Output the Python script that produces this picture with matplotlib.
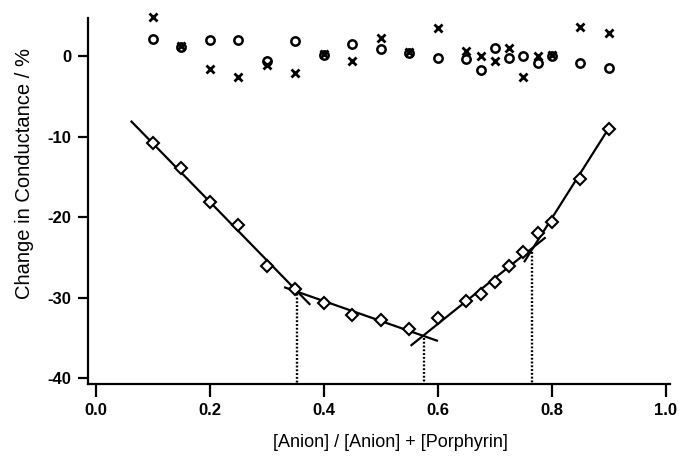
import matplotlib

matplotlib.use("Agg")
import matplotlib.pyplot as plt

# composition (mole fraction of anion)
x_main = [0.10, 0.15, 0.20, 0.25, 0.30, 0.35, 0.40, 0.45, 0.50, 0.55,
          0.60, 0.65, 0.675, 0.70, 0.725, 0.75, 0.775, 0.80, 0.85, 0.90]
y_main = [-10.8, -13.9, -18.1, -21.0, -26.1, -28.9, -30.7, -32.2, -32.8, -33.9,
          -32.5, -30.4, -29.5, -28.0, -26.1, -24.3, -22.0, -20.6, -15.3, -9.0]

x_ctrl = [0.10, 0.15, 0.20, 0.25, 0.30, 0.35, 0.40, 0.45, 0.50, 0.55,
          0.60, 0.65, 0.675, 0.70, 0.725, 0.75, 0.775, 0.80, 0.85, 0.90]
y_circle = [2.2, 1.2, 2.1, 2.0, -0.6, 1.9, 0.2, 1.5, 0.9, 0.4,
            -0.2, -0.3, -1.7, 1.1, -0.2, 0.0, -0.8, 0.1, -0.8, -1.4]
y_cross = [4.9, 1.3, -1.6, -2.5, -1.0, -2.0, 0.3, -0.6, 2.3, 0.5,
           3.6, 0.7, 0.0, -0.6, 1.0, -2.5, 0.0, 0.2, 3.7, 2.9]

# linear fit segments: (x0, x1), (y0, y1)
fit_x = [(0.061, 0.376), (0.330, 0.600), (0.552, 0.789), (0.751, 0.900)]
fit_y = [(-8.0, -30.9), (-28.7, -35.4), (-36.0, -22.5), (-25.6, -8.9)]

# break points (dotted drop lines)
break_x = [0.352, 0.575, 0.765]
break_y = [-29.0, -35.0, -24.3]

x_ticks = [0.0, 0.2, 0.4, 0.6, 0.8, 1.0]
y_ticks = [0, -10, -20, -30, -40]

plt.rcParams["font.family"] = ["Liberation Sans", "DejaVu Sans"]

fig = plt.figure(figsize=(6.79, 4.58), dpi=100)
ax = fig.add_axes([0.1296, 0.1616, 0.857, 0.7984])

x_min, x_max = -0.014, 1.007
y_min, y_max = -40.75, 4.75

for (x0, x1), (y0, y1) in zip(fit_x, fit_y):
    ax.plot([x0, x1], [y0, y1], color="black", linewidth=1.6, solid_capstyle="butt")

for bx, by in zip(break_x, break_y):
    ax.plot([bx, bx], [by, y_min], color="black", linewidth=1.7,
            linestyle=(0, (0.8, 0.8)))

ax.plot(x_main, y_main, linestyle="none", marker="D", markersize=6,
        markerfacecolor="white", markeredgecolor="black", markeredgewidth=1.5)
ax.plot(x_ctrl, y_circle, linestyle="none", marker="o", markersize=6,
        markerfacecolor="none", markeredgecolor="black", markeredgewidth=1.8,
        clip_on=False)
ax.plot(x_ctrl, y_cross, linestyle="none", marker="x", markersize=6,
        markeredgecolor="black", markeredgewidth=2.0, clip_on=False)

ax.set_xlim(x_min, x_max)
ax.set_ylim(y_min, y_max)

ax.spines["top"].set_visible(False)
ax.spines["right"].set_visible(False)
ax.spines["left"].set_linewidth(1.6)
ax.spines["bottom"].set_linewidth(1.6)

ax.set_xticks(x_ticks)
ax.set_xticklabels([f"{v:.1f}" for v in x_ticks])
ax.set_yticks(y_ticks)
ax.set_yticklabels([str(v) for v in y_ticks])
ax.tick_params(axis="x", direction="out", length=9, width=1.6, pad=5,
               labelsize=12)
ax.tick_params(axis="y", direction="out", length=7, width=1.6, pad=5,
               labelsize=12)
for label in ax.get_xticklabels() + ax.get_yticklabels():
    label.set_fontweight("bold")

ax.set_xlabel("[Anion] / [Anion] + [Porphyrin]", fontsize=13)
ax.xaxis.set_label_coords(0.52, -0.137)
ax.set_ylabel("Change in Conductance / %", fontsize=14.5)
ax.yaxis.set_label_coords(-0.093, 0.575)

fig.savefig("out.png", dpi=100)
